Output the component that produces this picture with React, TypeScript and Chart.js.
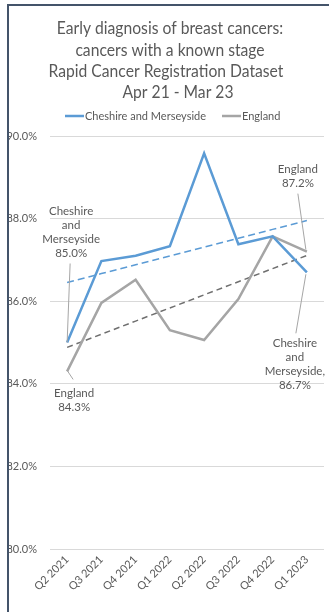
import React, { useEffect, useRef } from "react";
import { Chart, registerables } from "chart.js";

Chart.register(...registerables);

const categories = ["Q2 2021", "Q3 2021", "Q4 2021", "Q1 2022", "Q2 2022", "Q3 2022", "Q4 2022", "Q1 2023"];
const cheshire = [85.0, 86.97, 87.1, 87.33, 89.58, 87.38, 87.57, 86.7];
const england = [84.3, 85.96, 86.52, 85.3, 85.06, 86.05, 87.57, 87.2];
const titleLines = [
  "Early diagnosis of breast cancers:",
  "cancers with a known stage",
  "Rapid Cancer Registration Dataset",
  "Apr 21 - Mar 23",
];
const seriesNames = ["Cheshire and Merseyside", "England"];
const yMin = 80;
const yMax = 90;
const yStep = 2;

const BLUE = "#5B9BD5";
const GREY = "#A5A5A5";
const TREND_GREY = "#6F6F6F";
const TEXT = "#595959";
const FONT = "Lato, 'Liberation Sans', sans-serif";

function trend(values: number[]): number[] {
  const n = values.length;
  const mx = (n - 1) / 2;
  const my = values.reduce((a, b) => a + b, 0) / n;
  let sxy = 0;
  let sxx = 0;
  values.forEach((v, i) => {
    sxy += (i - mx) * (v - my);
    sxx += (i - mx) * (i - mx);
  });
  const slope = sxy / sxx;
  return values.map((_, i) => my + slope * (i - mx));
}

type LabelSpec = {
  ds: number;
  idx: number;
  lines: string[];
  dx: number;
  dy: number;
  leader: [number, number, number, number];
};

const labelSpecs: LabelSpec[] = [
  { ds: 0, idx: 0, lines: ["Cheshire", "and", "Merseyside", "85.0%"], dx: 4, dy: -131, leader: [3, -79, 0, 0] },
  { ds: 1, idx: 0, lines: ["England", "84.3%"], dx: 7, dy: 22, leader: [0, -1, 6, 8] },
  { ds: 1, idx: 7, lines: ["England", "87.2%"], dx: -9, dy: -82, leader: [-9, -58, -1, -2] },
  { ds: 0, idx: 7, lines: ["Cheshire", "and", "Merseyside,", "86.7%"], dx: -12, dy: 71, leader: [-11, 61, -1, 2] },
];

const decorPlugin = {
  id: "decor",
  beforeDraw(chart: any) {
    const ctx = chart.ctx;
    ctx.save();
    ctx.fillStyle = "#ffffff";
    ctx.fillRect(0, 0, chart.width, chart.height);
    ctx.fillStyle = "#44546A";
    ctx.fillRect(7, 4, 2, chart.height - 4);
    ctx.fillRect(7, 4, chart.width - 7, 2);
    // title
    ctx.fillStyle = TEXT;
    ctx.font = `18px ${FONT}`;
    ctx.textAlign = "center";
    ctx.textBaseline = "middle";
    const ys = [28, 50, 71, 92];
    const xs = [170, 170, 166, 178];
    titleLines.forEach((t, i) => {
      const w = ctx.measureText(t).width;
      ctx.fillText(t, xs[i], ys[i], w * 0.87);
    });
    // legend
    ctx.font = `11px ${FONT}`;
    ctx.textAlign = "left";
    const ly = 116;
    const items = [
      { x: 65, color: BLUE, text: seriesNames[0] },
      { x: 222, color: GREY, text: seriesNames[1] },
    ];
    items.forEach((it) => {
      ctx.strokeStyle = it.color;
      ctx.lineWidth = 2.5;
      ctx.beginPath();
      ctx.moveTo(it.x, ly);
      ctx.lineTo(it.x + 19, ly);
      ctx.stroke();
      ctx.fillStyle = TEXT;
      ctx.fillText(it.text, it.x + 20, ly);
    });
    ctx.restore();
  },
  afterDatasetsDraw(chart: any) {
    const ctx = chart.ctx;
    const xs = chart.scales.x;
    const ysc = chart.scales.y;
    ctx.save();
    labelSpecs.forEach((s) => {
      const v = chart.data.datasets[s.ds].data[s.idx] as number;
      const px = xs.getPixelForValue(s.idx);
      const py = ysc.getPixelForValue(v);
      ctx.strokeStyle = "#A6A6A6";
      ctx.lineWidth = 1;
      ctx.beginPath();
      ctx.moveTo(px + s.leader[0], py + s.leader[1]);
      ctx.lineTo(px + s.leader[2], py + s.leader[3]);
      ctx.stroke();
      ctx.fillStyle = TEXT;
      ctx.font = `11.5px ${FONT}`;
      ctx.textAlign = "center";
      ctx.textBaseline = "middle";
      s.lines.forEach((l, i) => ctx.fillText(l, px + s.dx, py + s.dy + i * 14));
    });
    ctx.restore();
  },
};

export default function App() {
  const ref = useRef<HTMLCanvasElement | null>(null);
  useEffect(() => {
    if (!ref.current) return;
    const chart = new Chart(ref.current, {
      type: "line",
      data: {
        labels: categories,
        datasets: [
          { label: seriesNames[0], data: cheshire, borderColor: BLUE, borderWidth: 2.5, pointRadius: 0, tension: 0, order: 1 },
          { label: seriesNames[1], data: england, borderColor: GREY, borderWidth: 2.5, pointRadius: 0, tension: 0, order: 2 },
          { label: "trend1", data: trend(cheshire), borderColor: BLUE, borderWidth: 1.5, borderDash: [7, 4], pointRadius: 0, order: 3 },
          { label: "trend2", data: trend(england), borderColor: TREND_GREY, borderWidth: 1.5, borderDash: [6, 4], pointRadius: 0, order: 4 },
        ],
      },
      options: {
        responsive: false,
        animation: false,
        layout: { padding: { top: 136, left: 9, right: 5, bottom: 0 } },
        plugins: { legend: { display: false }, title: { display: false }, tooltip: { enabled: false } },
        scales: {
          x: {
            offset: true,
            grid: { display: false, drawTicks: false },
            border: { display: false },
            ticks: { minRotation: 45, maxRotation: 45, padding: 4, color: TEXT, font: { family: FONT, size: 11 } },
            afterFit: (s: any) => { s.height = 63; },
          },
          y: {
            min: yMin,
            max: yMax,
            grid: { color: "#D9D9D9", drawTicks: false },
            border: { display: false },
            ticks: {
              stepSize: yStep,
              padding: 13,
              color: TEXT,
              font: { family: FONT, size: 11 },
              callback: (v: any) => Number(v).toFixed(1) + "%",
            },
            afterFit: (s: any) => { s.width = 41; },
          },
        },
      },
      plugins: [decorPlugin],
    });
    return () => chart.destroy();
  }, []);
  return (
    <div style={{ position: "fixed", left: 0, top: 0, width: 329, height: 612 }}>
      <canvas ref={ref} width={329} height={612} style={{ display: "block" }} />
    </div>
  );
}
